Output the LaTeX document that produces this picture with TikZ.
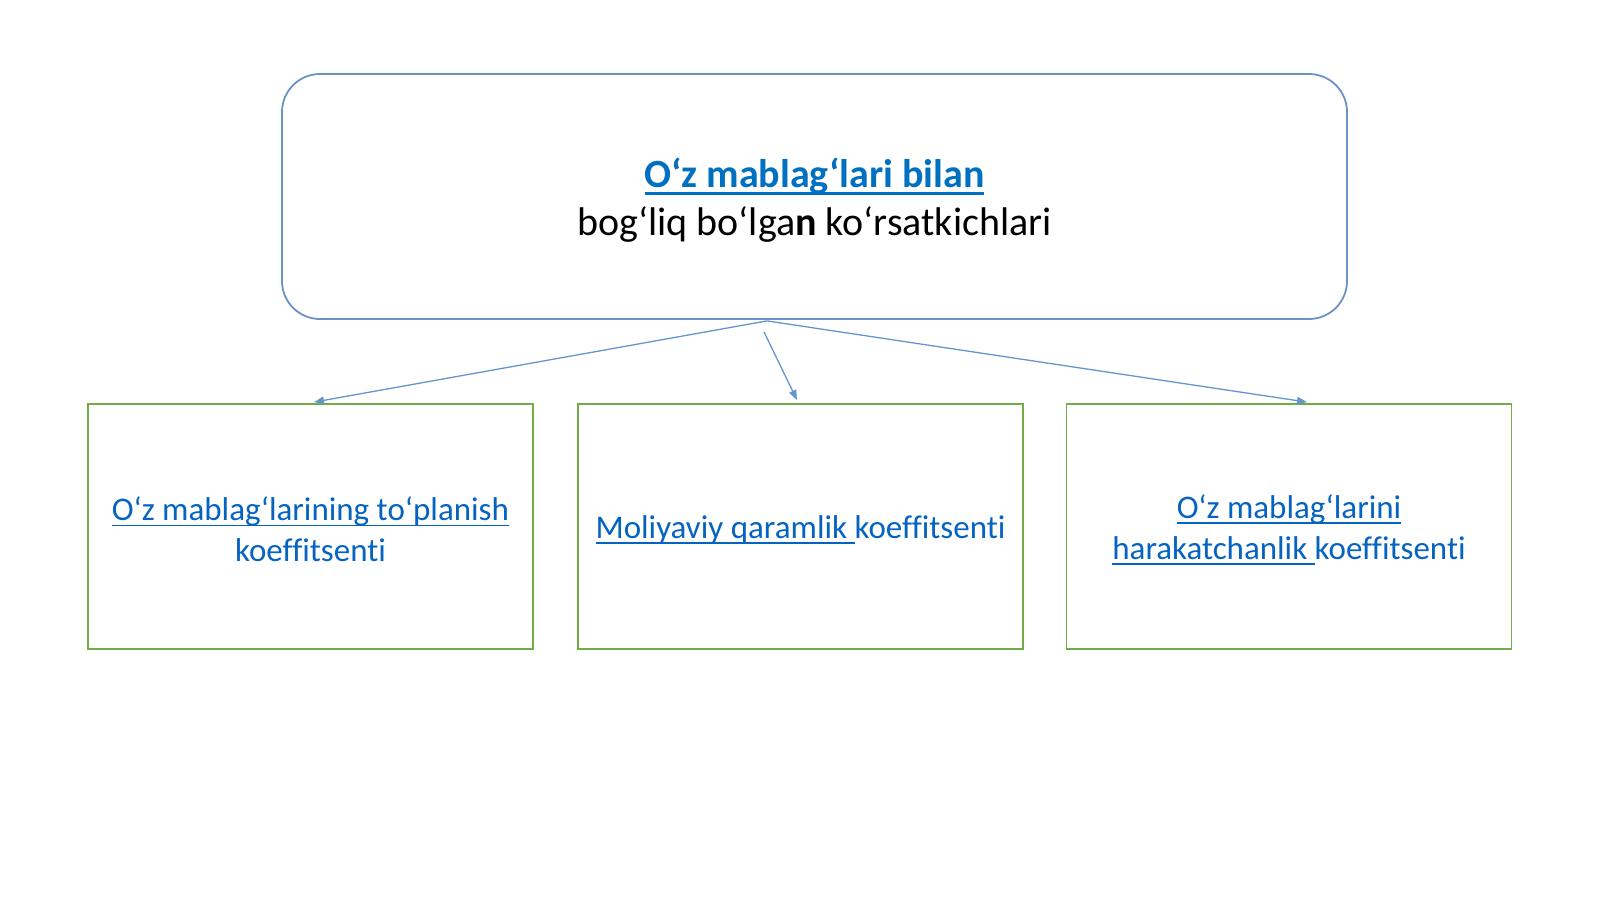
\documentclass[tikz,border=0pt]{standalone}
\usepackage{fontspec}
\setmainfont{Carlito}[Ligatures=NoCommon]
\usetikzlibrary{arrows.meta,calc}
\definecolor{topline}{RGB}{108,145,196}
\definecolor{arrowline}{RGB}{100,150,205}
\definecolor{greenline}{RGB}{112,173,71}
\definecolor{linkblue}{RGB}{5,99,193}
\definecolor{titleblue}{RGB}{0,112,192}
\newcommand\myul[1]{\setbox0\hbox{#1}\mbox{\rlap{\rule[-0.17em]{\wd0}{0.055em}}\box0}}
\tikzset{
  topbox/.style={draw=topline, line width=1.8pt, rounded corners=38pt,
    minimum width=1065pt, minimum height=245pt, inner sep=0pt},
  toptext/.style={align=center, font=\fontsize{40}{48}\selectfont, inner sep=0pt},
  subbox/.style={draw=greenline, line width=1.8pt,
    minimum width=445pt, minimum height=245pt, inner sep=0pt},
  subtext/.style={align=center, font=\fontsize{33}{41}\selectfont,
    text=linkblue, inner sep=0pt},
  conn/.style={draw=arrowline, line width=1.3pt,
    -{Triangle[length=10pt,width=7.5pt]}}
}
\begin{document}
\begin{tikzpicture}[x=1pt,y=-1pt]
\useasboundingbox (0,0) rectangle (1600,900);
\node[topbox] (top) at (814.5,196.5) {};
\node[toptext] (toplabel) at ($(top.center)+(0,4)$)
  {{\color{titleblue}\bfseries\myul{O‘z mablag‘lari bilan}}\\
   bog‘liq bo‘lga\textbf{n} ko‘rsatkichlari};
\node[subbox] (b1) at (310.5,526.5) {};
\node[subbox] (b2) at (800.5,526.5) {};
\node[subbox] (b3) at (1289,526.5) {};
\node[subtext] (l1) at ($(b1.center)+(0,3)$)
  {\myul{O‘z mablag‘larining to‘planish}\\koeffitsenti};
\node[subtext] (l2) at ($(b2.center)+(0,3)$)
  {\myul{Moliyaviy qaramlik\ }koeffitsenti};
\node[subtext] (l3) at ($(b3.center)+(0,3)$)
  {\myul{O‘z mablag‘larini}\\\myul{harakatchanlik\ }koeffitsenti};
\coordinate (apex) at ($(top.south)+(-47.5,1)$);
\coordinate (mid) at ($(top.south)+(-50.5,12)$);
\coordinate (e1) at ($(b1.north)+(3.5,-1)$);
\coordinate (e2) at ($(b2.north)+(-3.5,-3)$);
\coordinate (e3) at ($(b3.north)+(18,-1)$);
\draw[conn] (apex) -- (e1);
\draw[conn] (apex) -- (e3);
\draw[conn] (mid) -- (e2);
\end{tikzpicture}
\end{document}
